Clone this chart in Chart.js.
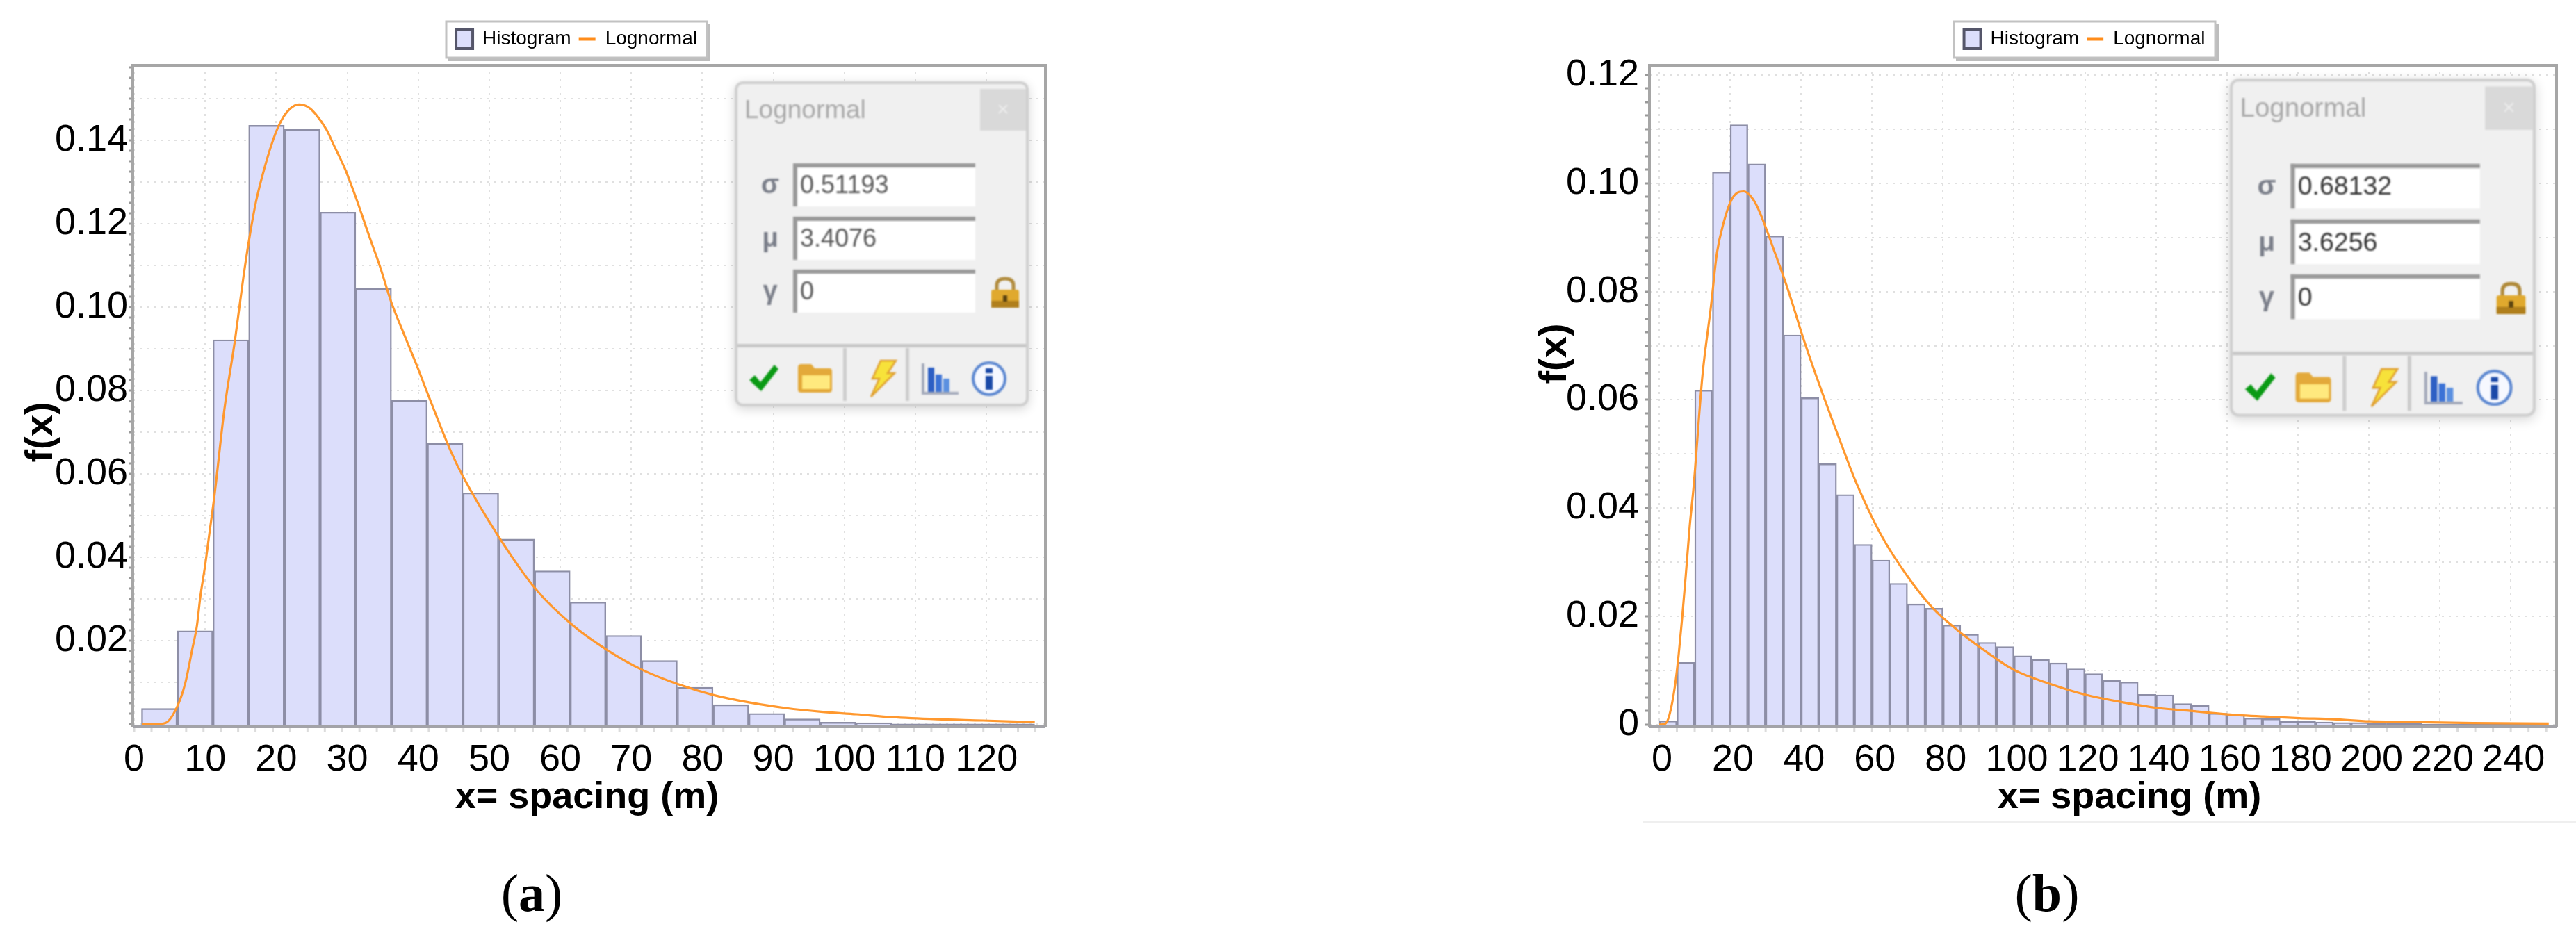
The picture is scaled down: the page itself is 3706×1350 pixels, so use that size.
<!DOCTYPE html>
<html><head><meta charset="utf-8">
<script src="https://cdn.jsdelivr.net/npm/chart.js@4"></script>
<style>
html,body{margin:0;padding:0;background:#fff;width:3706px;height:1350px;overflow:hidden;font-family:"Liberation Sans",sans-serif}
canvas{position:absolute;top:0;filter:blur(.7px)}
.wrap{position:absolute;top:0;height:1350px}
.cap{position:absolute;top:1240px;width:200px;text-align:center;font:76px "Liberation Serif",serif;line-height:90px;color:#000}
.cap b{font-weight:700}
.panel{position:absolute;width:423px;height:468px;box-sizing:border-box;background:#f0f0f0;border:4px solid #cfcfcf;border-radius:12px;box-shadow:0 4px 16px rgba(0,0,0,.16);transform-origin:0 0;filter:blur(.9px)}
.panel>*{position:absolute}
.title{left:10px;top:16px;font-size:37px;color:#a9a9a9}
.close{right:0;top:7px;width:66px;height:60px;background:#d9d9d9;color:#ececec;font-size:30px;text-align:center;line-height:58px}
.field{left:80px;width:262px;height:62px;box-sizing:border-box;background:#fff;border-top:6px solid #9a9a9a;border-left:6px solid #9a9a9a;font-size:36px;line-height:50px;padding-left:4px;color:#555}
.sym{width:50px;left:22px;text-align:center;font-size:38px;font-weight:700;color:#7b7f8a;line-height:44px}
.sep{left:0;right:0;top:374px;height:5px;background:#c8c8c8}
.vsep{top:380px;width:5px;height:76px;background:#cdcdcd}
.ic{top:400px}
.rule{position:absolute;left:2364px;right:0;top:1181px;height:3px;background:#efefef}
</style></head><body>
<div class="wrap" id="wa" style="left:0;width:1600px"><canvas id="ca"></canvas></div>
<div class="wrap" id="wb" style="left:2150px;width:1556px"><canvas id="cb"></canvas></div>
<div class="rule"></div>
<div class="cap" style="left:665px">(<b>a</b>)</div>
<div class="cap" style="left:2845px">(<b>b</b>)</div>
<script>
// ---------- data ----------
const seriesNames = ['Histogram', 'Lognormal'];
const xAxisTitle = 'x= spacing (m)';
const yAxisTitle = 'f(x)';

const binCentersA = [3.54,8.57,13.6,18.63,23.66,28.69,33.72,38.75,43.78,48.81,53.84,58.87,63.9,68.93,73.96,78.99,84.02,89.05,94.08,99.11,104.14,109.17,114.2,119.23,124.26];
const histogramA  = [.0038,.0224,.0922,.1436,.1427,.1228,.1045,.0777,.0673,.0555,.0444,.0368,.0293,.0213,.0153,.0089,.0047,.0026,.0013,.0005,.0004,.0001,.0001,.0001,.0001];
const curveXA = [1.1,3,4.4,6.07,7.2,8.2,8.84,9.3,10,10.6,11.3,12.7,14.2,15.4,16.2,17.15,18.3,19.6,20.7,21.9,23.2,24.5,25.5,27.1,28.1,29.7,31.3,33,34.6,36.2,38,39.8,41.5,44.6,46.3,51.5,56.6,61.5,66.6,71.6,76.6,81.6,86.7,91.7,96.7,101.7,106.7,113,119.5,126.8];
const curveYA = [0,0,.0003,.0043,.0099,.0182,.0237,.0304,.0382,.0459,.0548,.0755,.0922,.1075,.1164,.1253,.1331,.1403,.1447,.1475,.1486,.148,.1464,.1425,.1389,.1331,.1259,.1175,.1098,.1012,.0935,.086,.0785,.0654,.0594,.0445,.0323,.0241,.0178,.013,.0096,.007,.0052,.0039,.003,.0024,.0017,.0012,.0009,.0005];
const xTicksA = [0,10,20,30,40,50,60,70,80,90,100,110,120];
const yLabelsA = [.02,.04,.06,.08,.10,.12,.14];
const paramsA = ['0.51193','3.4076','0'];

const binCentersB = [2.5,7.5,12.5,17.5,22.5,27.5,32.5,37.5,42.5,47.5,52.5,57.5,62.5,67.5,72.5,77.5,82.5,87.5,92.5,97.5,102.5,107.5,112.5,117.5,122.5,127.5,132.5,137.5,142.5,147.5,152.5,157.5,162.5,167.5,172.5,177.5,182.5,187.5,192.5,197.5,202.5,207.5,212.5,217.5,222.5,227.5,232.5,237.5,242.5,247.5];
const histogramB  = [.0007,.0115,.0618,.1021,.1108,.1036,.0903,.072,.0604,.0482,.0425,.0333,.0304,.0261,.0223,.0215,.0184,.0167,.0152,.0144,.0127,.012,.0114,.0103,.0094,.0082,.0079,.0056,.0055,.0039,.0036,.0021,.0018,.0012,.0011,.0006,.0006,.0005,.0004,.0004,.0002,.0002,.0002,.0001,.0001,.0001,.0001,.0001,.0001,.0001];
const curveXB = [0,1.57,2.9,4.5,5.5,6.5,7.5,8.6,9.7,12.2,14.6,16.3,18.2,20.2,22.1,23.8,25.4,27.4,29.6,32.6,35.2,37.8,40.4,44,52.2,55.6,62.5,70.1,77,83.8,90.6,100,110.3,120.3,130,140.2,150.3,160.1,170.2,180.4,190,200.2,210.4,229.4,250.7];
const curveYB = [0,.0001,.0018,.0074,.013,.0199,.0276,.0366,.0439,.0645,.0773,.0872,.0928,.0967,.0983,.0985,.0979,.096,.0926,.0872,.0825,.0773,.0718,.0649,.0503,.0446,.0351,.0273,.0216,.0176,.0142,.0101,.0075,.0055,.0042,.0031,.0025,.0019,.0015,.0012,.001,.0006,.0005,.0003,.0002];
const xTicksB = [0,20,40,60,80,100,120,140,160,180,200,220,240];
const yLabelsB = [0,.02,.04,.06,.08,.10,.12];
const paramsB = ['0.68132','3.6256','0'];
// ------------------------------------------------

const FONT = '"Liberation Sans", sans-serif';
const near = (a, b) => Math.abs(a - b) < 1e-6;

function makeChart(cfg) {
  const cv = document.getElementById(cfg.id);
  const yMinor = [];
  for (let v = 0; v <= cfg.yMax; v += 0.0025) yMinor.push(+v.toFixed(4));
  const framePlugin = {
    id: 'frame',
    beforeDraw(chart) {
      const L = chart.legend, c = chart.ctx, f = cfg.legendBox;
      L.left = f[0]; L.right = f[0] + f[2]; L.top = f[1]; L.bottom = f[1] + f[3];
      c.save();
      c.fillStyle = '#bdbdbd'; c.fillRect(f[0] + 3, f[1] + 3, f[2] + 2, f[3] + 2);
      c.fillStyle = '#fff'; c.strokeStyle = '#c2c2c2'; c.lineWidth = 3;
      c.fillRect(f[0], f[1], f[2], f[3]); c.strokeRect(f[0], f[1], f[2], f[3]);
      c.restore();
    },
    afterDraw(chart) {
      const a = chart.chartArea, c = chart.ctx, x = chart.scales.x;
      c.save();
      c.strokeStyle = '#dcdcdc'; c.lineWidth = 3;
      for (let v = cfg.stubFrom; v <= cfg.xMax; v += cfg.stubStep) {
        const px = x.getPixelForValue(v);
        c.beginPath(); c.moveTo(px, a.bottom); c.lineTo(px, a.bottom + 8); c.stroke();
      }
      c.strokeStyle = '#a6a6a6'; c.lineWidth = 4;
      c.beginPath(); c.moveTo(a.left, a.bottom); c.lineTo(a.left, a.top); c.lineTo(a.right, a.top); c.lineTo(a.right, a.bottom); c.stroke();
      c.strokeStyle = '#a3a3a8';
      c.beginPath(); c.moveTo(a.left, a.bottom); c.lineTo(a.right, a.bottom); c.stroke();
      c.restore();
    }
  };
  const chart = new Chart(cv, {
    type: 'bar',
    data: { datasets: [
      { type: 'bar', label: seriesNames[0], order: 2,
        data: cfg.bins.map((x, i) => ({ x, y: cfg.hist[i] })),
        backgroundColor: '#dcdefb', borderColor: '#8d8ea6', borderWidth: 2.4,
        barPercentage: 1, categoryPercentage: 1, base: cfg.yMin },
      { type: 'line', label: seriesNames[1], order: 1,
        data: cfg.cx.map((x, i) => ({ x, y: cfg.cy[i] })),
        borderColor: '#ff982e', borderWidth: 3.2, pointRadius: 0,
        cubicInterpolationMode: 'monotone', fill: false }
    ]},
    options: {
      responsive: false, animation: false, maintainAspectRatio: false,
      layout: { padding: { left: 0, right: cfg.padRight, top: 40, bottom: 1350 - 1046 - 130 } },
      plugins: {
        tooltip: { enabled: false },
        legend: {
          display: true, position: 'top',
          labels: {
            font: { family: FONT, size: 28 }, color: '#333', padding: 11, boxWidth: 24, boxHeight: 28,
            usePointStyle: true, pointStyleWidth: 24,
            generateLabels: () => [
              { text: seriesNames[0], pointStyle: 'rect', fillStyle: '#dcdefb', strokeStyle: '#55566a', lineWidth: 4, datasetIndex: 0 },
              { text: seriesNames[1], pointStyle: 'line', fillStyle: '#ff8c1a', strokeStyle: '#ff8c1a', lineWidth: 5, datasetIndex: 1 }
            ]
          }
        }
      },
      scales: {
        x: {
          type: 'linear', min: cfg.xMin, max: cfg.xMax, offset: false,
          afterBuildTicks: s => { s.ticks = cfg.xTicks.map(value => ({ value })); },
          afterFit: s => { s.height = 130; },
          border: { display: false, dash: [3, 7] },
          grid: { offset: false, color: '#e0e0e0', lineWidth: 2, drawTicks: false, z: 0 },
          ticks: { autoSkip: false, maxRotation: 0, minRotation: 0, color: '#000', padding: 16, labelOffset: cfg.labelOffset,
            font: { family: FONT, size: 54 }, callback: v => String(v) },
          title: { display: true, text: xAxisTitle, color: '#000', font: { family: FONT, size: 54, weight: 'bold' }, padding: 0 }
        },
        y: {
          type: 'linear', min: cfg.yMin, max: cfg.yMax,
          afterBuildTicks: s => { s.ticks = yMinor.map(value => ({ value })); },
          afterFit: s => { s.width = cfg.axisWidth; },
          border: { display: false, dash: [3, 7] },
          grid: { drawTicks: true, tickLength: 6, tickWidth: 3, tickBorderDash: [],
            color: c => (c.tick && near((c.tick.value * 100) % 1, 0) ? '#e0e0e0' : 'rgba(0,0,0,0)'),
            tickColor: '#999', lineWidth: 2 },
          ticks: { autoSkip: false, color: '#000', padding: cfg.yPad, font: { family: FONT, size: 54 },
            callback: v => {
              const hit = cfg.yLabels.find(l => near(l, v));
              return hit === undefined ? '' : (hit === 0 ? '0' : hit.toFixed(2));
            } },
          title: { display: true, text: yAxisTitle, color: '#000', font: { family: FONT, size: 56, weight: 'bold' }, padding: 0 }
        }
      }
    },
    plugins: [framePlugin]
  });
  // titles moved to where the figure has them
  const shift = (s, dx, dy) => { const d = s.drawTitle; s.drawTitle = function () { const c = this.ctx; c.save(); c.translate(dx, dy); d.call(this); c.restore(); }; };
  shift(chart.scales.x, cfg.xTitle[0], cfg.xTitle[1]);
  shift(chart.scales.y, cfg.yTitle[0], cfg.yTitle[1]);
  chart.options.layout.padding.top += 94 - chart.chartArea.top;
  chart.update('none');
  return chart;
}

document.getElementById('ca').width = 1600; document.getElementById('ca').height = 1350;
document.getElementById('cb').width = 1556; document.getElementById('cb').height = 1350;

makeChart({ id: 'ca', bins: binCentersA, hist: histogramA, cx: curveXA, cy: curveYA, xTicks: xTicksA, yLabels: yLabelsA,
  xMin: -0.2, xMax: 128.3, yMin: -0.0006, yMax: 0.158, padRight: 96, axisWidth: 191, yPad: 1, labelOffset: 0,
  stubFrom: 0, stubStep: 2.44, legendBox: [642, 31, 375, 52], xTitle: [-3, 5], yTitle: [26, 52] });
makeChart({ id: 'cb', bins: binCentersB, hist: histogramB, cx: curveXB, cy: curveYB, xTicks: xTicksB, yLabels: yLabelsB,
  xMin: -2.74, xMax: 252.9, yMin: -0.0004, yMax: 0.1218, padRight: 28, axisWidth: 223, yPad: 9, labelOffset: 4,
  stubFrom: 0, stubStep: 5, legendBox: [661, 31, 376, 52], xTitle: [38, 5], yTitle: [54, -61] });

// ---------- the floating parameter panels from the screenshot ----------
const icons = `
<svg class="ic" style="left:13px;top:398px" width="50" height="50" viewBox="0 0 50 50"><path d="M4 28 L12 21 L20 31 L40 6 L46 12 L21 44 Z" fill="#0a9a14"/></svg>
<svg class="ic" style="left:84px;top:400px" width="56" height="46" viewBox="0 0 56 46"><path d="M3 8 Q3 3 8 3 H22 L27 9 H48 Q52 9 52 14 V40 Q52 44 47 44 H8 Q3 44 3 40 Z" fill="#e3a93a"/><rect x="9" y="19" width="40" height="20" fill="#ffe97e"/></svg>
<div class="vsep" style="left:152px"></div>
<svg class="ic" style="left:188px;top:396px" width="44" height="56" viewBox="0 0 44 56"><path d="M18 2 H40 L28 20 H38 L4 54 L16 28 H6 Z" fill="#f7e23a" stroke="#e0a030" stroke-width="2.5"/></svg>
<div class="vsep" style="left:242px"></div>
<svg class="ic" style="left:264px;top:400px" width="56" height="48" viewBox="0 0 56 48"><path d="M3 2 V45 H54" fill="none" stroke="#a4aabb" stroke-width="4"/><rect x="10" y="8" width="9" height="35" fill="#2d5fc4"/><rect x="21" y="18" width="9" height="25" fill="#3b72d6"/><rect x="32" y="24" width="9" height="19" fill="#5b90e0"/></svg>
<svg class="ic" style="left:336px;top:398px" width="52" height="52" viewBox="0 0 52 52"><circle cx="26" cy="26" r="23" fill="#f6f8ff" stroke="#5a86d0" stroke-width="4"/><rect x="21" y="11" width="10" height="7" fill="#1a49a8"/><rect x="21" y="22" width="10" height="20" fill="#1a49a8"/></svg>`;
function panel(left, top, scale, vals, textColor) {
  const p = document.createElement('div');
  p.className = 'panel';
  p.style.left = left + 'px'; p.style.top = top + 'px'; p.style.transform = 'scale(' + scale + ')';
  const tops = [114, 191, 267], syms = ['σ', 'μ', 'γ'];
  let h = '<div class="title">Lognormal</div><div class="close">×</div>';
  vals.forEach((v, i) => {
    h += `<div class="sym" style="top:${tops[i] + 8}px">${syms[i]}</div><div class="field" style="top:${tops[i]}px;color:${textColor}">${v}</div>`;
  });
  h += `<svg style="left:362px;top:276px" width="46" height="48" viewBox="0 0 46 48"><path d="M11 22 V14 Q11 4 23 4 Q35 4 35 14 V22" fill="none" stroke="#b08a3a" stroke-width="5"/><rect x="3" y="20" width="40" height="26" rx="3" fill="#e0a92e"/><rect x="3" y="36" width="40" height="10" fill="#b07f1c"/><rect x="20" y="28" width="6" height="9" fill="#5a4310"/></svg>`;
  h += '<div class="sep"></div>' + icons;
  p.innerHTML = h;
  document.body.appendChild(p);
}
panel(1057, 117, 1, paramsA, '#5a5a5a');
panel(3208, 113, 1.04, paramsB, '#333');
</script>
</body></html>
